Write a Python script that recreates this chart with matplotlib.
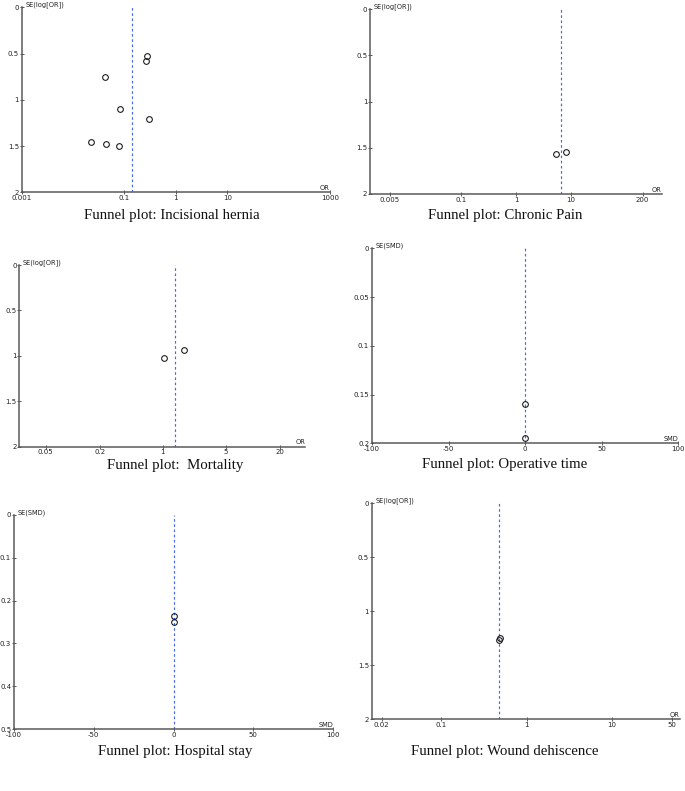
import matplotlib
matplotlib.use("Agg")
import matplotlib.pyplot as plt
import matplotlib.ticker as mticker

W, H = 685, 791

# ---- data ----
hernia_or = [0.27, 0.26, 0.042, 0.081, 0.298, 0.0224, 0.0433, 0.0777]
hernia_se = [0.526, 0.58, 0.757, 1.095, 1.207, 1.452, 1.477, 1.499]
hernia_pooled = 0.141

pain_or = [5.26, 8.2]
pain_se = [1.571, 1.55]
pain_pooled = 6.58

mort_or = [1.02, 1.74]
mort_se = [1.02, 0.936]
mort_pooled = 1.37

optime_smd = [0.0, 0.0]
optime_se = [0.1596, 0.1945]
optime_pooled = 0.0

stay_smd = [0.0, 0.0]
stay_se = [0.236, 0.25]
stay_pooled = 0.0

wound_or = [0.472, 0.481]
wound_se = [1.262, 1.25]
wound_pooled = 0.479

# tick labels
or_yticks = [0, 0.5, 1, 1.5, 2]
hernia_xticks = [0.001, 0.1, 1, 10, 1000]
pain_xticks = [0.005, 0.1, 1, 10, 200]
mort_xticks = [0.05, 0.2, 1, 5, 20]
wound_xticks = [0.02, 0.1, 1, 10, 50]
smd_xticks = [-100, -50, 0, 50, 100]
optime_yticks = [0, 0.05, 0.1, 0.15, 0.2]
stay_yticks = [0, 0.1, 0.2, 0.3, 0.4, 0.5]

fig = plt.figure(figsize=(W / 100, H / 100), dpi=100)
fig.patch.set_facecolor("white")


def rect(l, r, t, b):
    # pixel box -> figure fraction
    return [l / W, 1 - b / H, (r - l) / W, (b - t) / H]


def funnel(box, x, se, pooled, xlim, xticks, ylim, yticks, ylab, xlab, title, tx, ty, log=True):
    ax = fig.add_axes(rect(*box))
    if log:
        ax.set_xscale("log")
    ax.set_xlim(*xlim)
    ax.set_ylim(*ylim)
    ax.set_xticks(xticks)
    ax.set_xticklabels(["%g" % v for v in xticks])
    ax.xaxis.set_minor_locator(mticker.NullLocator())
    ax.set_yticks(yticks)
    ax.set_yticklabels(["%g" % v for v in yticks])
    for side in ("top", "right"):
        ax.spines[side].set_visible(False)
    for side in ("left", "bottom"):
        ax.spines[side].set_color("#5a5a5a")
        ax.spines[side].set_linewidth(1.1)
    ax.tick_params(axis="both", direction="inout", length=3, width=0.7, color="#555555",
                   labelsize=5, labelcolor="#222222", pad=0.5)
    ax.axvline(pooled, color="#4466f0", linestyle=(0, (2.2, 2.2)), linewidth=0.85)
    ax.plot(x, se, linestyle="none", marker="o", markersize=4.1, markerfacecolor="none",
            markeredgecolor="#111111", markeredgewidth=0.75)
    ax.text(0.012, 0.995, ylab, transform=ax.transAxes, fontsize=4.8, color="#222222",
            ha="left", va="bottom")
    ax.text(1.0, 0.008, xlab, transform=ax.transAxes, fontsize=4.8, color="#222222",
            ha="right", va="bottom")
    fig.text(tx / W, 1 - ty / H, title, fontsize=10.7, family="Liberation Serif",
             ha="center", va="center", color="#111111")
    return ax


funnel((21.7, 330, 7.3, 192.3), hernia_or, hernia_se, hernia_pooled, (0.001, 1000),
       hernia_xticks, (2, 0), or_yticks, "SE(log[OR])", "OR",
       "Funnel plot: Incisional hernia", 172, 215)
funnel((370, 661.7, 9, 194), pain_or, pain_se, pain_pooled, (0.0022, 445),
       pain_xticks, (2, 0), or_yticks, "SE(log[OR])", "OR",
       "Funnel plot: Chronic Pain", 505, 215)
funnel((19.3, 305, 265, 446.7), mort_or, mort_se, mort_pooled, (0.0255, 38),
       mort_xticks, (2, 0), or_yticks, "SE(log[OR])", "OR",
       "Funnel plot:  Mortality", 175, 466)
funnel((372, 678, 248.3, 443.3), optime_smd, optime_se, optime_pooled, (-100, 100),
       smd_xticks, (0.2, 0), optime_yticks, "SE(SMD)", "SMD",
       "Funnel plot: Operative time", 505, 465, log=False)
funnel((14, 333, 514.7, 729.3), stay_smd, stay_se, stay_pooled, (-100, 100),
       smd_xticks, (0.5, 0), stay_yticks, "SE(SMD)", "SMD",
       "Funnel plot: Hospital stay", 175, 752, log=False)
funnel((371.7, 680, 503.3, 719.3), wound_or, wound_se, wound_pooled, (0.0153, 62.6),
       wound_xticks, (2, 0), or_yticks, "SE(log[OR])", "OR",
       "Funnel plot: Wound dehiscence", 505, 752)

fig.savefig("out.png", dpi=100, facecolor="white")
